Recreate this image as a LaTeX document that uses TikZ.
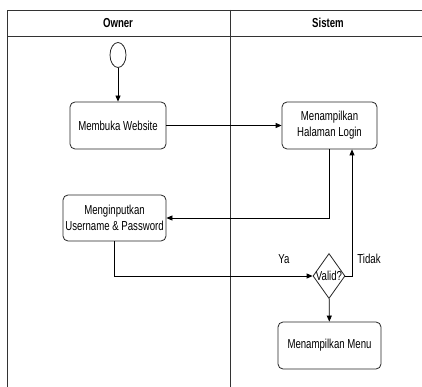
\documentclass[tikz,border=0pt]{standalone}
\usepackage{fontspec}
\setmainfont{Liberation Sans}[FakeStretch=0.74]
\usetikzlibrary{shapes.geometric,arrows.meta}
\begin{document}
\begin{tikzpicture}[x=1pt,y=-1pt,
  lane/.style={line width=0.8pt, draw=black!80},
  actbox/.style={draw=black!85, line width=0.8pt, rounded corners=5pt, align=center,
    inner sep=0pt, font=\fontsize{13}{16}\selectfont},
  flow/.style={line width=0.8pt, -{Triangle[length=6pt,width=5pt]}},
  lbl/.style={font=\fontsize{13}{16}\selectfont, inner sep=0pt},
  hdr/.style={font=\fontsize{13}{16}\selectfont\bfseries, inner sep=0pt}]
\useasboundingbox (0,0) rectangle (422,387);
\fill[white] (0,0) rectangle (422,387);

% swimlane frame
\draw[lane] (422,10) -- (7,10) -- (7,387);
\draw[lane] (7,36) -- (422,36);
\draw[lane] (230,10) -- (230,387);
\node[hdr] (hOwner) at (118,23) {Owner};
\node[hdr] (hSistem) at (328,23) {Sistem};

% activities
\node[draw=black!85, line width=0.8pt, ellipse, minimum width=16pt, minimum height=25pt, inner sep=0pt] (start) at (118,55) {};
\node[actbox, minimum width=96pt, minimum height=47pt] (web) at (118,125.5) {Membuka Website};
\node[actbox, minimum width=95pt, minimum height=47pt] (login) at (329.5,125.5) {Menampilkan\\Halaman Login};
\node[actbox, minimum width=103pt, minimum height=46pt] (input) at (114.5,218) {Menginputkan\\Username \& Password};
\node[draw=black!85, line width=0.8pt, diamond, minimum width=32pt, minimum height=45pt, inner sep=0pt,
  label={[lbl]center:Valid?}] (valid) at (329,276) {};
\node[actbox, minimum width=103pt, minimum height=47pt] (menu) at (329.5,345.5) {Menampilkan Menu};

% flows
\draw[flow] (start) -- (web);
\draw[flow] (web) -- (login);
\draw[flow] (login.south) |- (input.east);
\draw[flow] (input.south) |- (valid.west);
\coordinate (tk) at (352,276);
\draw[flow] (valid.east) -- (tk) -- (tk |- login.south);
\draw[flow] (valid) -- (menu);

\node[lbl] (ya) at (284,259) {Ya};
\node[lbl] (tidak) at (369,259) {Tidak};
\end{tikzpicture}
\end{document}
